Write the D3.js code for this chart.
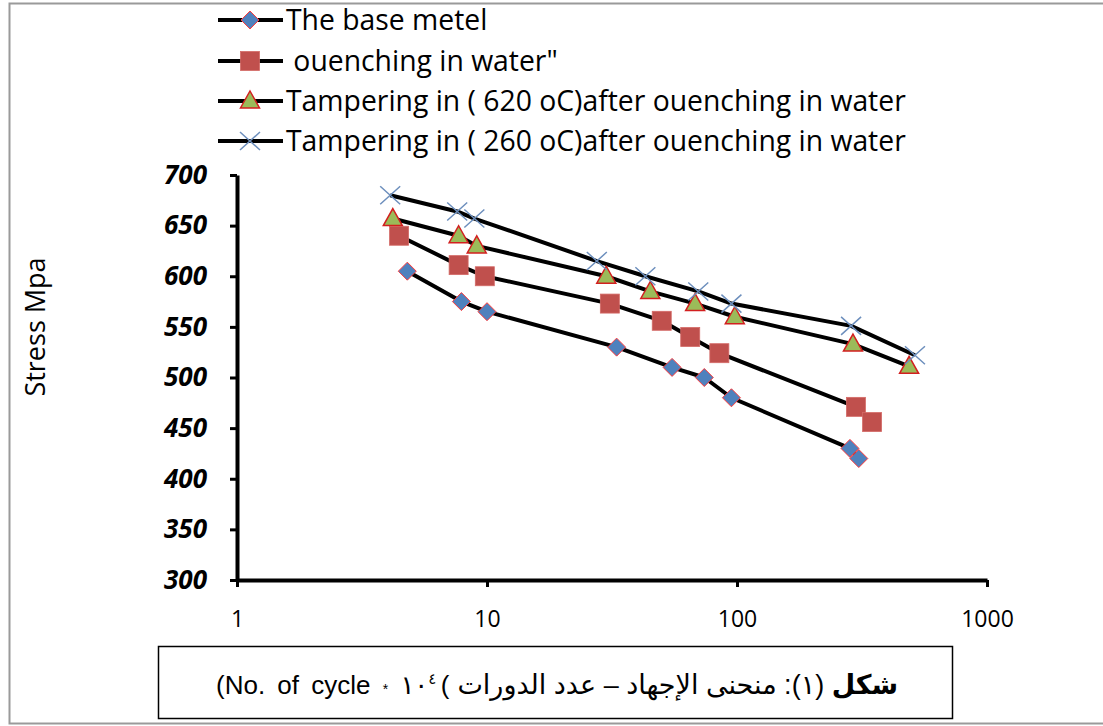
<!DOCTYPE html>
<html>
<head>
<meta charset="utf-8">
<script src="https://cdn.jsdelivr.net/npm/d3@7"></script>
<style>
  body { margin: 0; background: #fff; }
  svg { display: block; }
</style>
</head>
<body>
<svg id="chart" width="1103" height="726"></svg>
<script>
// Data (x = cycles x10^4, y = stress MPa)
const seriesNames = [
  'The base metel',
  ' ouenching in water"',
  'Tampering in ( 620 oC)after ouenching in water',
  'Tampering in ( 260 oC)after ouenching in water'
];
const baseX = [4.8, 7.9, 10, 33, 55, 74, 95, 283, 307];
const baseY = [605, 575, 565, 530, 510, 500, 480, 430, 420];
const quenchX = [4.45, 7.7, 9.8, 31, 50, 65, 85, 299, 347];
const quenchY = [640, 611, 600, 573, 556, 540, 524, 471, 456];
const temp620X = [4.2, 7.7, 9.1, 30, 45, 68, 98, 291, 488];
const temp620Y = [657, 640, 630, 600, 585, 573, 560, 533, 511];
const temp260X = [4.1, 7.6, 8.9, 27.5, 43, 70, 95, 286, 515];
const temp260Y = [680, 664, 657, 615, 600, 585, 573, 551, 522];
const yTicks = [300, 350, 400, 450, 500, 550, 600, 650, 700];
const xTicks = [1, 10, 100, 1000];

const series = [
  { name: seriesNames[0], xs: baseX, ys: baseY, marker: 'diamond' },
  { name: seriesNames[1], xs: quenchX, ys: quenchY, marker: 'square' },
  { name: seriesNames[2], xs: temp620X, ys: temp620Y, marker: 'triangle' },
  { name: seriesNames[3], xs: temp260X, ys: temp260Y, marker: 'cross' }
];

const svg = d3.select('#chart');

// outer frame
svg.append('rect')
  .attr('x', 9.5).attr('y', 3.5)
  .attr('width', 1110).attr('height', 720)
  .attr('fill', 'none').attr('stroke', '#9a9a9a').attr('stroke-width', 2);

const x = d3.scaleLog().domain([1, 1000]).range([237, 987]);
const y = d3.scaleLinear().domain([300, 700]).range([580, 175]);

// axes
const yAxis = svg.append('g')
  .attr('transform', 'translate(237,0)')
  .call(d3.axisLeft(y).tickValues(yTicks).tickSize(7).tickSizeOuter(0).tickPadding(23));
yAxis.select('.domain').attr('stroke', '#000').attr('stroke-width', 4);
yAxis.selectAll('.tick line').attr('stroke', '#000').attr('stroke-width', 3);
yAxis.selectAll('.tick text')
  .attr('fill', '#000')
  .style('font-family', '"Open Sans", sans-serif')
  .style('font-size', '26px')
  .style('font-weight', 'bold')
  .style('font-style', 'italic');

const xAxis = svg.append('g')
  .attr('transform', 'translate(0,580)')
  .call(d3.axisBottom(x).tickValues(xTicks).tickFormat(d3.format('d')).tickSize(7).tickSizeOuter(0).tickPadding(24));
xAxis.select('.domain').attr('stroke', '#000').attr('stroke-width', 4);
xAxis.selectAll('.tick line').attr('stroke', '#000').attr('stroke-width', 3);
xAxis.selectAll('.tick text')
  .attr('fill', '#000')
  .style('font-family', '"Open Sans", sans-serif')
  .style('font-size', '23px');

// y title
svg.append('text')
  .attr('transform', 'translate(45,327) rotate(-90)')
  .attr('text-anchor', 'middle')
  .style('font-family', '"Open Sans", sans-serif')
  .style('font-size', '27px')
  .text('Stress Mpa');

// marker drawing
function drawMarker(sel, type) {
  if (type === 'diamond') {
    sel.append('path').attr('d', 'M0,-9L9,0L0,9L-9,0Z')
      .attr('fill', '#4f81bd').attr('stroke', '#ff3b3b').attr('stroke-width', 1);
  } else if (type === 'square') {
    sel.append('rect').attr('x', -9.5).attr('y', -9.5).attr('width', 19).attr('height', 19)
      .attr('fill', '#c0504d').attr('stroke', '#d46a67').attr('stroke-width', 0.8);
  } else if (type === 'triangle') {
    sel.append('path').attr('d', 'M0,-10L9.5,7L-9.5,7Z')
      .attr('fill', '#9bbb59').attr('stroke', '#d21f1f').attr('stroke-width', 1.5);
  } else {
    sel.append('path').attr('d', 'M-10,-9L10,9M-10,9L10,-9')
      .attr('stroke', '#6d8fbd').attr('stroke-width', 1.5).attr('fill', 'none');
  }
}

const line = d3.line().x(d => x(d[0])).y(d => y(d[1]));

const plot = svg.append('g');
series.forEach(s => {
  const pts = s.xs.map((v, i) => [v, s.ys[i]]);
  plot.append('path')
    .datum(pts)
    .attr('d', line)
    .attr('fill', 'none')
    .attr('stroke', '#000')
    .attr('stroke-width', 4)
    .attr('stroke-linejoin', 'round');
});
series.forEach(s => {
  const pts = s.xs.map((v, i) => [v, s.ys[i]]);
  plot.selectAll(null)
    .data(pts)
    .enter().append('g')
    .attr('transform', d => `translate(${x(d[0])},${y(d[1])})`)
    .each(function() { drawMarker(d3.select(this), s.marker); });
});

// legend
const legendRows = [20, 61, 101, 141];
const legend = svg.append('g');
series.forEach((s, i) => {
  const row = legend.append('g').attr('transform', `translate(0,${legendRows[i]})`);
  row.append('line').attr('x1', 218).attr('x2', 283).attr('y1', 0).attr('y2', 0)
    .attr('stroke', '#000').attr('stroke-width', 4);
  const m = row.append('g').attr('transform', 'translate(250,0)');
  drawMarker(m, s.marker);
  row.append('text')
    .attr('class', 'legend-label')
    .attr('x', 286).attr('y', 0).attr('dy', '0.35em')
    .style('font-family', '"Open Sans", sans-serif')
    .style('font-size', '24px')
    .style('white-space', 'pre')
    .attr('xml:space', 'preserve')
    .text(s.name);
});
// fit legend font so longest label spans like the reference
const longest = d3.max(legend.selectAll('.legend-label').nodes(), n => n.getComputedTextLength());
const fitSize = 24 * 620 / longest;
legend.selectAll('.legend-label').style('font-size', fitSize + 'px');

// caption box
svg.append('rect')
  .attr('x', 158.5).attr('y', 646.5).attr('width', 794).attr('height', 72)
  .attr('fill', 'none').attr('stroke', '#000').attr('stroke-width', 1.5);

const capFont = '"Liberation Sans", "DejaVu Sans", sans-serif';

const capRight = svg.append('text')
  .attr('x', 898).attr('y', 694)
  .attr('direction', 'rtl')
  .attr('text-anchor', 'start')
  .style('font-family', capFont)
  .style('font-size', '27px');
capRight.append('tspan').style('font-weight', 'bold').text('شكل');
capRight.append('tspan').text(' (١): منحنى الإجهاد – عدد الدورات');

const arabicLeft = capRight.node().getBBox().x;

// bracket between the Arabic and the Latin part, as drawn in the reference
svg.append('text')
  .attr('x', arabicLeft - 8).attr('y', 694)
  .attr('text-anchor', 'end')
  .style('font-family', capFont)
  .style('font-size', '26px')
  .text('(');

const capLeft = svg.append('text')
  .attr('x', 216).attr('y', 694)
  .style('font-family', capFont)
  .style('font-size', '26px')
  .style('word-spacing', '5px');
capLeft.append('tspan').text('(No. of cycle ');
capLeft.append('tspan').style('font-size', '14px').text('*');
capLeft.append('tspan').text(' ١٠');
capLeft.append('tspan').style('font-size', '15px').attr('dy', -10).text('٤');
</script>
</body>
</html>
